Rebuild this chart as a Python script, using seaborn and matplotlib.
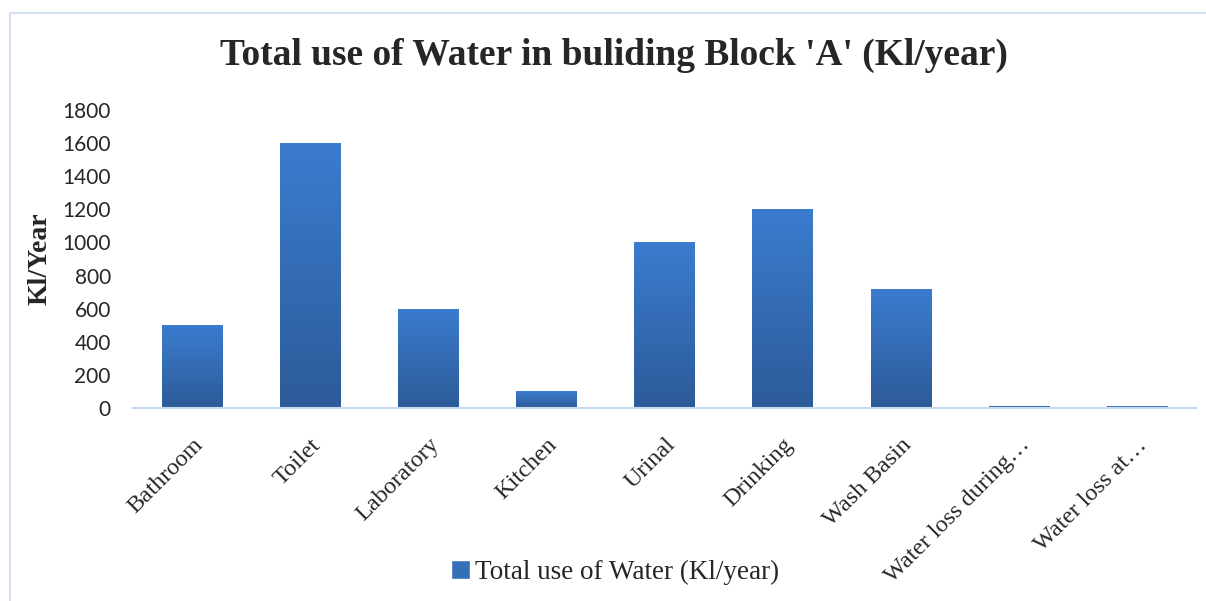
import numpy as np
import pandas as pd
import seaborn as sns
import matplotlib.pyplot as plt
from matplotlib import patheffects as pe
from matplotlib.colors import LinearSegmentedColormap
from matplotlib.patches import Rectangle

# data
kategori = ["Bathroom", "Toilet", "Laboratory", "Kitchen", "Urinal", "Drinking",
            "Wash Basin", "Water loss during…", "Water loss at…"]
pemakaian = [500, 1600, 600, 100, 1000, 1200, 720, 15, 12]
yticks = [0, 200, 400, 600, 800, 1000, 1200, 1400, 1600, 1800]

df = pd.DataFrame({"kategori": kategori, "pemakaian": pemakaian})

sns.set_style("white")
serif = "Liberation Serif"

fig = plt.figure(figsize=(12.06, 6.01), dpi=100)
ax = fig.add_axes([133 / 1206, 193 / 601, (1196 - 133) / 1206, 298 / 601])

sns.barplot(data=df, x="kategori", y="pemakaian", color="#3470b8", width=0.51,
            ax=ax, zorder=2)

# gradient + bayangan tipis pada tiap batang
cmap = LinearSegmentedColormap.from_list("biru", ["#2c5b98", "#3b7ccf"])
grad = np.linspace(0, 1, 256).reshape(-1, 1)
for p in ax.patches:
    p.set_path_effects([pe.SimplePatchShadow(offset=(0, -3), shadow_rgbFace="#888888", alpha=0.3),
                        pe.Normal()])
    x0, y0 = p.get_x(), p.get_y()
    w, h = p.get_width(), p.get_height()
    im = ax.imshow(grad, cmap=cmap, extent=[x0, x0 + w, y0, y0 + h], origin="lower",
                   aspect="auto", zorder=3)
    im.set_clip_path(p)

ax.set_xlim(-0.5, len(kategori) - 0.5)
ax.set_ylim(0, 1800)
ax.set_yticks(yticks)
ax.set_yticklabels([str(v) for v in yticks], fontsize=15, family="Lato")
ax.tick_params(axis="y", length=0, pad=16)
ax.tick_params(axis="x", length=0, pad=19)
ax.set_xticks(range(len(kategori)))
ax.set_xticklabels(kategori, rotation=45, ha="right", rotation_mode="anchor",
                   fontsize=17.5, family=serif)
ax.set_xlabel("")
ax.set_ylabel("Kl/Year", fontsize=20, fontweight="bold", family=serif, labelpad=7)

for s in ["top", "right", "left"]:
    ax.spines[s].set_visible(False)
ax.spines["bottom"].set_color("#c8d8ee")
ax.spines["bottom"].set_linewidth(1.5)
ax.spines["bottom"].set_zorder(4)

fig.text(0.509, 0.907, "Total use of Water in buliding Block 'A' (Kl/year)",
         ha="center", va="center", fontsize=27, fontweight="bold", family=serif)

# legenda
leg_patch = Rectangle((0, 0), 1, 1, facecolor="#3470b8")
fig.legend([leg_patch], ["Total use of Water (Kl/year)"], loc="center",
           bbox_to_anchor=(0.51, 0.048), frameon=False, handlelength=0.7,
           handleheight=0.7, handletextpad=0.2, prop={"family": serif, "size": 19.5})

# bingkai tipis
fig.add_artist(Rectangle((10 / 1206, -0.1), 1.2, (601 - 13) / 601 + 0.1,
                         transform=fig.transFigure, fill=False,
                         edgecolor="#d3e0f2", linewidth=1.5))

fig.savefig("out.png", dpi=100)
